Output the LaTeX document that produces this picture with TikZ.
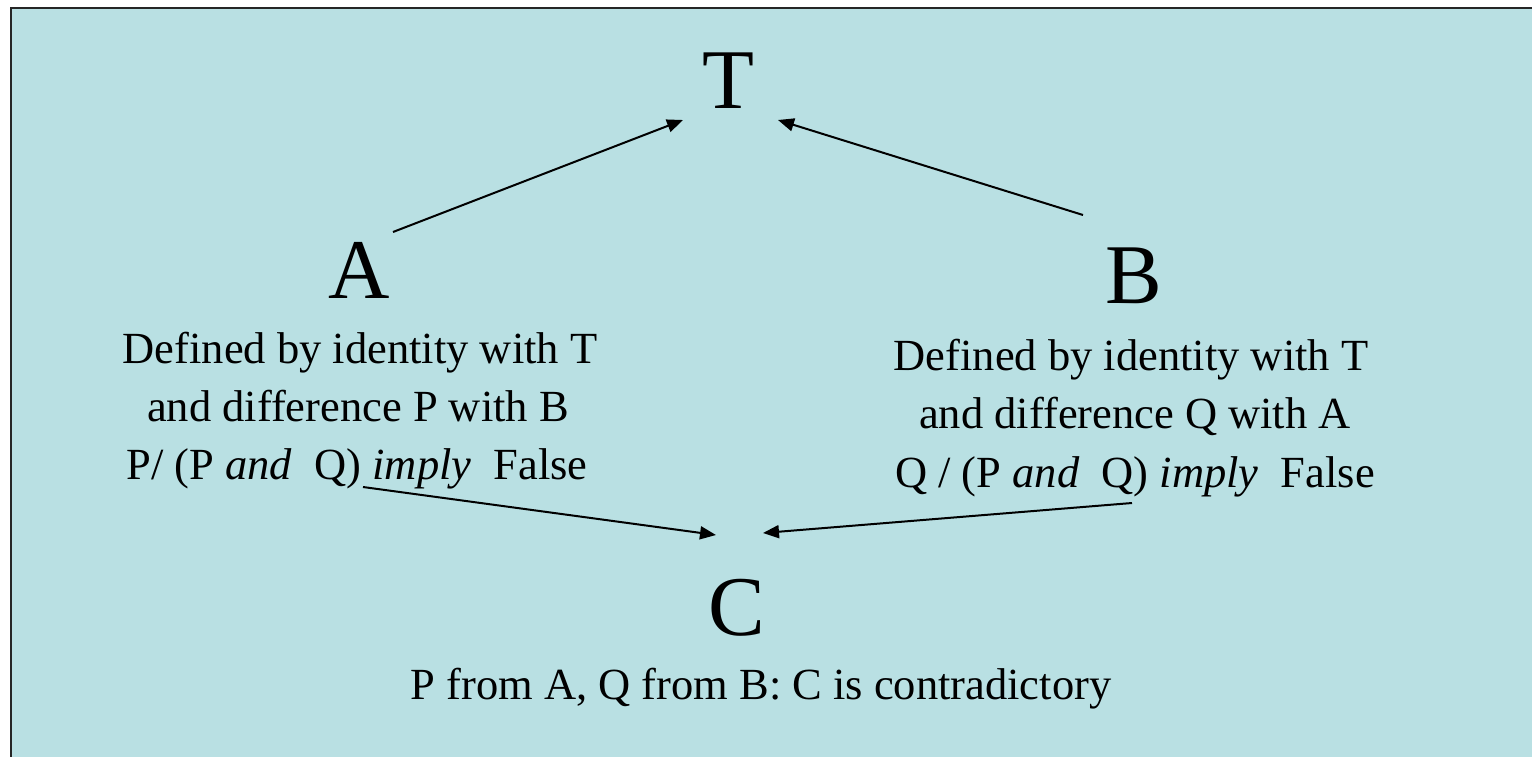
\documentclass[tikz,border=0pt]{standalone}
\usepackage{fontspec}
\setmainfont{Liberation Serif}
\usetikzlibrary{arrows.meta}
\definecolor{bgblue}{RGB}{185,224,227}
\tikzset{
  big/.style={inner sep=0pt, anchor=base, font=\fontsize{85}{90}\selectfont},
  body/.style={inner sep=0pt, anchor=base, font=\fontsize{44.5}{58}\selectfont},
  conn/.style={line width=2pt, -{Triangle[length=16pt,width=13pt]}}
}
\begin{document}
\begin{tikzpicture}[x=1pt,y=-1pt]
\useasboundingbox (0,0) rectangle (1532,756);
\fill[white] (0,0) rectangle (1532,756);
\fill[bgblue] (11,8) rectangle (1540,770);
\draw[line width=2.5pt, black!85] (11,770) -- (11,8) -- (1540,8);

\node[big] (T) at (728,108) {T};
\node[big] (A) at (359,298) {A};
\node[big] (B) at (1134,303) {B};
\node[big] (C) at (737,635) {C};

\node[body] (a1) at (360,363) {Defined by identity with T};
\node[body] (a2) at (358,421) {and difference P with B};
\node[body] (a3) at (357,479) {P/ (P \textit{and}\ \ Q) \textit{imply}\ \ False};

\node[body] (b1) at (1131,370) {Defined by identity with T};
\node[body] (b2) at (1135,428) {and difference Q with A};
\node[body] (b3) at (1135,487) {Q / (P \textit{and}\ \ Q) \textit{imply}\ \ False};

\node[body] (cd) at (761,699) {P from A, Q from B: C is contradictory};

\coordinate (aTs) at (393,232);
\coordinate (aTe) at (683,120);
\coordinate (bTs) at (1083,215);
\coordinate (bTe) at (778,120);
\coordinate (aCs) at (363,487);
\coordinate (aCe) at (716,535);
\coordinate (bCs) at (1132,503);
\coordinate (bCe) at (763,533);

\draw[conn] (aTs) -- (aTe);
\draw[conn] (bTs) -- (bTe);
\draw[conn] (aCs) -- (aCe);
\draw[conn] (bCs) -- (bCe);
\end{tikzpicture}
\end{document}
